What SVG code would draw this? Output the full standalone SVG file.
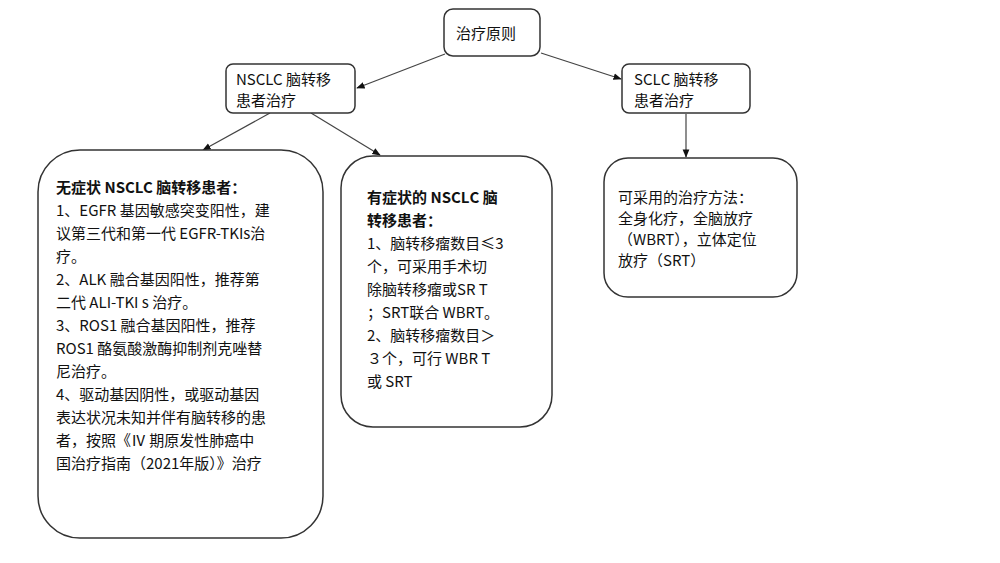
<svg xmlns="http://www.w3.org/2000/svg" width="1000" height="563" viewBox="0 0 1000 563">
<style>
.b{fill:#fff;stroke:#333;stroke-width:1.5}
text{font-family:"Noto Sans CJK SC","DejaVu Sans Mono",sans-serif;font-size:15px;fill:#111}
.bd{font-weight:bold}
.c{stroke:#444;stroke-width:1.2;fill:none;marker-end:url(#a)}
</style>
<defs><marker id="a" viewBox="0 0 10 10" refX="9" refY="5" markerWidth="7" markerHeight="7" orient="auto"><path d="M0,1 L10,5 L0,9z" fill="#111"/></marker></defs>
<rect width="1000" height="563" fill="#fff"/>
<g id="connectors">
<line class="c" x1="445" y1="54" x2="357" y2="88"/>
<line class="c" x1="541" y1="53" x2="621" y2="79"/>
<line class="c" x1="270" y1="113" x2="203" y2="150"/>
<line class="c" x1="311" y1="113" x2="380" y2="155"/>
<line class="c" x1="686" y1="114" x2="686" y2="157"/>
</g>
<g id="root"><rect class="b" x="444" y="9" width="96" height="47" rx="9"/><text x="456" y="39">治疗原则</text></g>
<g id="nsclc"><rect class="b" x="226" y="64" width="129" height="49" rx="7"/><text x="236" y="85">NSCLC 脑转移</text><text x="236" y="106">患者治疗</text></g>
<g id="sclc"><rect class="b" x="622" y="64" width="128" height="49" rx="7"/><text x="634" y="85">SCLC 脑转移</text><text x="634" y="106">患者治疗</text></g>
<g id="asym"><rect class="b" x="38" y="150" width="285" height="388" rx="42"/>
<text x="56" y="193" class="bd">无症状 NSCLC 脑转移患者：</text>
<text x="56" y="216">1、EGFR 基因敏感突变阳性，建</text>
<text x="56" y="239">议第三代和第一代 EGFR-TKIs治</text>
<text x="56" y="262">疗。</text>
<text x="56" y="285">2、ALK 融合基因阳性，推荐第</text>
<text x="56" y="308">二代 ALI-TKI s 治疗。</text>
<text x="56" y="331">3、ROS1 融合基因阳性，推荐</text>
<text x="56" y="354">ROS1 酪氨酸激酶抑制剂克唑替</text>
<text x="56" y="377">尼治疗。</text>
<text x="56" y="400">4、驱动基因阴性，或驱动基因</text>
<text x="56" y="423">表达状况未知并伴有脑转移的患</text>
<text x="56" y="446">者，按照《Ⅳ 期原发性肺癌中</text>
<text x="56" y="469">国治疗指南（2021年版）》治疗</text>
</g>
<g id="sym"><rect class="b" x="341" y="156" width="211" height="271" rx="32"/>
<text x="367" y="203" class="bd">有症状的 NSCLC 脑</text>
<text x="367" y="226" class="bd">转移患者：</text>
<text x="367" y="249">1、脑转移瘤数目≤3</text>
<text x="367" y="272">个，可采用手术切</text>
<text x="367" y="295">除脑转移瘤或SR T</text>
<text x="367" y="318">；SRT联合 WBRT。</text>
<text x="367" y="341">2、脑转移瘤数目＞</text>
<text x="367" y="364">３个，可行 WBR T</text>
<text x="367" y="387">或 SRT</text>
</g>
<g id="sclcbox"><rect class="b" x="604" y="158" width="193" height="139" rx="24"/>
<text x="618" y="203">可采用的治疗方法：</text>
<text x="618" y="224">全身化疗，全脑放疗</text>
<text x="618" y="245">（WBRT），立体定位</text>
<text x="618" y="266">放疗（SRT）</text>
</g>
</svg>
